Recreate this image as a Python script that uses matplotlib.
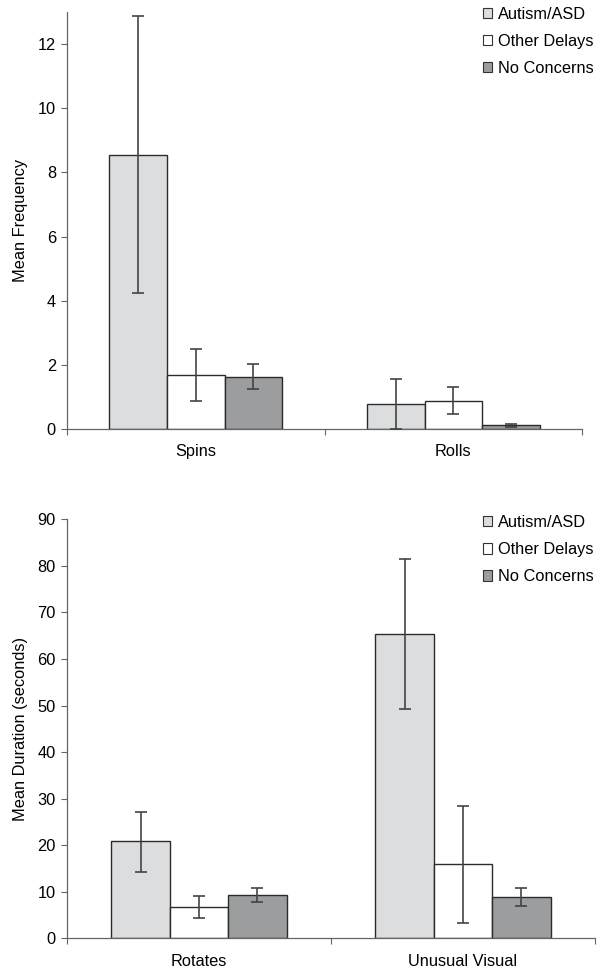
import numpy as np
import matplotlib
matplotlib.use("Agg")
import matplotlib.pyplot as plt
from matplotlib.patches import Patch

plt.rcParams['font.family'] = ['Liberation Sans', 'DejaVu Sans']

groups = ['Autism/ASD', 'Other Delays', 'No Concerns']
colors = ['#dcdddf', '#ffffff', '#9c9d9f']

# top panel: frequency
freq_cats = ['Spins', 'Rolls']
freq_mean = [[8.55, 0.77], [1.68, 0.88], [1.63, 0.115]]
freq_lo = [[4.25, 0.0], [0.88, 0.48], [1.24, 0.07]]
freq_hi = [[12.89, 1.56], [2.48, 1.32], [2.04, 0.16]]

# bottom panel: duration
dur_cats = ['Rotates', 'Unusual Visual']
dur_mean = [[20.8, 65.3], [6.66, 16.0], [9.37, 8.9]]
dur_lo = [[14.3, 49.2], [4.36, 3.3], [7.73, 6.87]]
dur_hi = [[27.1, 81.5], [9.08, 28.5], [10.74, 10.74]]

FS = 11.8

fig = plt.figure(figsize=(6.01, 9.74), dpi=100)
ax1 = fig.add_axes([0.1115, 0.5595, 0.857, 0.4282])
ax2 = fig.add_axes([0.1115, 0.0367, 0.8785, 0.4301])

def draw_panel(ax, cats, means, lo, hi, ylim, yticks, ylabel, group_frac):
    x = np.arange(len(cats))
    w = group_frac / 3
    for i in range(3):
        m = np.array(means[i])
        err = [m - np.array(lo[i]), np.array(hi[i]) - m]
        pos = x + (i - 1) * w
        ax.bar(pos, m, width=w, color=colors[i], edgecolor='#2b2b2b',
               linewidth=1.0, label=groups[i], zorder=2)
        ax.errorbar(pos, m, yerr=err, fmt='none', ecolor='#444444',
                    elinewidth=1.2, capsize=4, capthick=1.2, zorder=3)
    ax.set_xlim(-0.5, len(cats) - 0.5)
    ax.set_ylim(*ylim)
    ax.set_yticks(yticks)
    ax.set_xticks(np.arange(len(cats) + 1) - 0.5)
    ax.set_xticklabels([])
    ax.set_xticks(x, minor=True)
    ax.set_xticklabels(cats, minor=True, fontsize=FS)
    ax.tick_params(axis='x', which='minor', length=0, pad=11)
    ax.tick_params(axis='x', which='major', length=4, color='#666666', width=0.8)
    ax.tick_params(axis='y', length=4, color='#666666', width=0.8, labelsize=FS, pad=4)
    ax.set_ylabel(ylabel, fontsize=FS, labelpad=7)
    for s in ['top', 'right']:
        ax.spines[s].set_visible(False)
    for s in ['left', 'bottom']:
        ax.spines[s].set_color('#666666')
        ax.spines[s].set_linewidth(0.9)

draw_panel(ax1, freq_cats, freq_mean, freq_lo, freq_hi, (0, 13),
           np.arange(0, 13, 2), 'Mean Frequency', 0.671)
draw_panel(ax2, dur_cats, dur_mean, dur_lo, dur_hi, (0, 90),
           np.arange(0, 91, 10), 'Mean Duration (seconds)', 0.664)

def add_legend(ax, ytop):
    handles = [Patch(facecolor=c, edgecolor='#333333', linewidth=0.8) for c in colors]
    ax.legend(handles, groups, loc='upper left', bbox_to_anchor=(0.803, ytop),
              bbox_transform=fig.transFigure, frameon=False, fontsize=FS,
              handlelength=0.6, handleheight=0.6, handletextpad=0.35,
              labelspacing=0.74, borderpad=0, borderaxespad=0)

add_legend(ax1, 0.993)
add_legend(ax2, 0.4712)

fig.savefig('out.png', dpi=100)
